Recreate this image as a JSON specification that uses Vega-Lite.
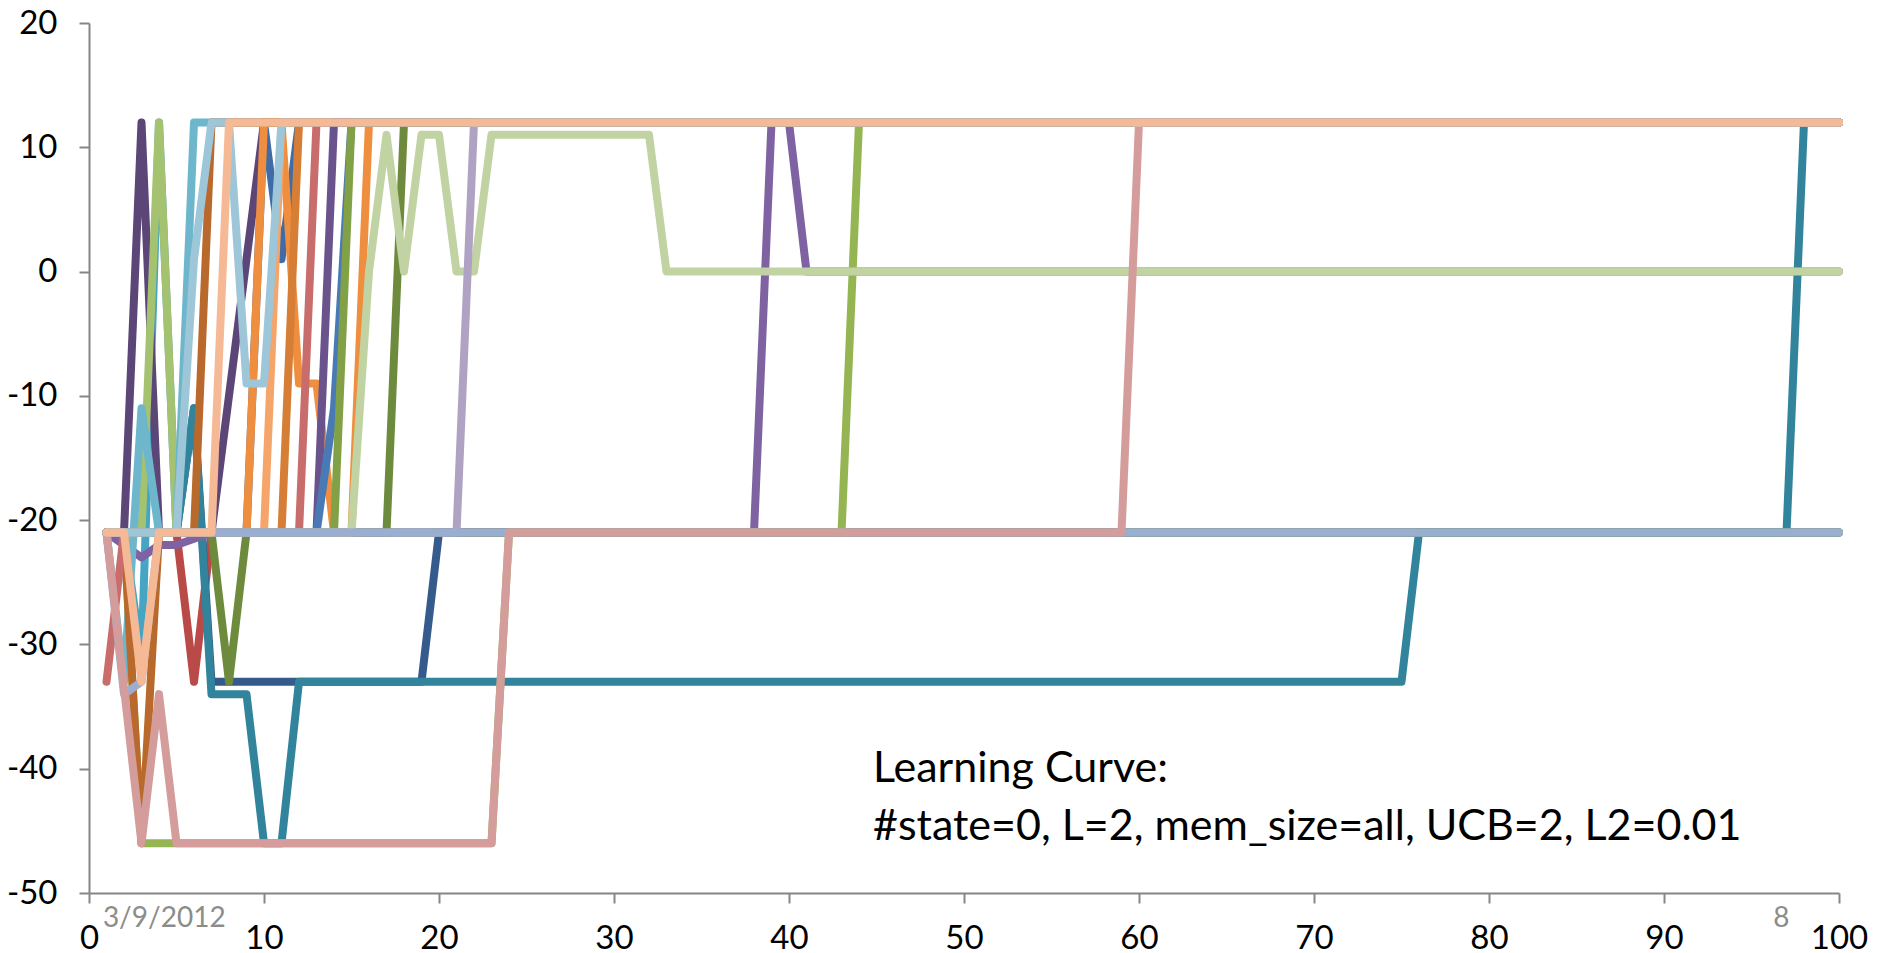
{
  "$schema": "https://vega.github.io/schema/vega-lite/v6.json",
  "width": 1750,
  "height": 870,
  "autosize": {"type": "none"},
  "padding": {"left": 89, "top": 23, "right": 42, "bottom": 60},
  "background": "white",
  "config": {
    "view": {"stroke": null},
    "font": "Lato"
  },
  "layer": [
    {
      "data": {"values": [
        {"s":"s01","x":1,"y":-21},{"s":"s01","x":9,"y":-21},{"s":"s01","x":10,"y":12},{"s":"s01","x":11,"y":1},{"s":"s01","x":12,"y":12},{"s":"s01","x":100,"y":12},
        {"s":"s02","x":1,"y":-21},{"s":"s02","x":5,"y":-21},{"s":"s02","x":6,"y":-33},{"s":"s02","x":7,"y":-21},{"s":"s02","x":100,"y":-21},
        {"s":"s03","x":1,"y":-21},{"s":"s03","x":2,"y":-21},{"s":"s03","x":3,"y":-31},{"s":"s03","x":4,"y":12},{"s":"s03","x":5,"y":-21},{"s":"s03","x":100,"y":-21},
        {"s":"s04","x":1,"y":-21},{"s":"s04","x":5,"y":-21},{"s":"s04","x":6,"y":-11},{"s":"s04","x":7,"y":-33},{"s":"s04","x":19,"y":-33},{"s":"s04","x":20,"y":-21},{"s":"s04","x":100,"y":-21},
        {"s":"s05","x":1,"y":-21},{"s":"s05","x":5,"y":-21},{"s":"s05","x":6,"y":-11},{"s":"s05","x":7,"y":-34},{"s":"s05","x":9,"y":-34},{"s":"s05","x":10,"y":-46},{"s":"s05","x":11,"y":-46},{"s":"s05","x":12,"y":-33},{"s":"s05","x":75,"y":-33},{"s":"s05","x":76,"y":-21},{"s":"s05","x":97,"y":-21},{"s":"s05","x":98,"y":12},{"s":"s05","x":100,"y":12},
        {"s":"s06","x":1,"y":-21},{"s":"s06","x":2,"y":-22},{"s":"s06","x":3,"y":-23},{"s":"s06","x":4,"y":-22},{"s":"s06","x":5,"y":-22},{"s":"s06","x":6,"y":-21.5},{"s":"s06","x":7,"y":-21},{"s":"s06","x":38,"y":-21},{"s":"s06","x":39,"y":12},{"s":"s06","x":40,"y":12},{"s":"s06","x":41,"y":0},{"s":"s06","x":100,"y":0},
        {"s":"s07","x":1,"y":-21},{"s":"s07","x":2,"y":-21},{"s":"s07","x":3,"y":-46},{"s":"s07","x":23,"y":-46},{"s":"s07","x":24,"y":-21},{"s":"s07","x":43,"y":-21},{"s":"s07","x":44,"y":12},{"s":"s07","x":100,"y":12},
        {"s":"s08","x":1,"y":-21},{"s":"s08","x":2,"y":-21},{"s":"s08","x":3,"y":12},{"s":"s08","x":4,"y":-21},{"s":"s08","x":7,"y":-21},{"s":"s08","x":8,"y":-10},{"s":"s08","x":9,"y":1},{"s":"s08","x":10,"y":12},{"s":"s08","x":100,"y":12},
        {"s":"s09","x":1,"y":-21},{"s":"s09","x":3,"y":-21},{"s":"s09","x":4,"y":12},{"s":"s09","x":5,"y":-21},{"s":"s09","x":100,"y":-21},
        {"s":"s10","x":1,"y":-21},{"s":"s10","x":2,"y":-33},{"s":"s10","x":3,"y":-11},{"s":"s10","x":4,"y":-21},{"s":"s10","x":5,"y":-21},{"s":"s10","x":6,"y":12},{"s":"s10","x":100,"y":12},
        {"s":"s11","x":1,"y":-21},{"s":"s11","x":2,"y":-21},{"s":"s11","x":3,"y":-46},{"s":"s11","x":4,"y":-21},{"s":"s11","x":6,"y":-21},{"s":"s11","x":7,"y":12},{"s":"s11","x":100,"y":12},
        {"s":"s12","x":1,"y":-21},{"s":"s12","x":7,"y":-21},{"s":"s12","x":8,"y":-33},{"s":"s12","x":9,"y":-21},{"s":"s12","x":17,"y":-21},{"s":"s12","x":18,"y":12},{"s":"s12","x":100,"y":12},
        {"s":"s13","x":1,"y":-21},{"s":"s13","x":9,"y":-21},{"s":"s13","x":10,"y":12},{"s":"s13","x":11,"y":12},{"s":"s13","x":12,"y":-9},{"s":"s13","x":13,"y":-9},{"s":"s13","x":14,"y":-21},{"s":"s13","x":15,"y":-21},{"s":"s13","x":16,"y":12},{"s":"s13","x":100,"y":12},
        {"s":"s14","x":1,"y":-21},{"s":"s14","x":10,"y":-21},{"s":"s14","x":11,"y":12},{"s":"s14","x":100,"y":12},
        {"s":"s15","x":1,"y":-21},{"s":"s15","x":11,"y":-21},{"s":"s15","x":12,"y":12},{"s":"s15","x":100,"y":12},
        {"s":"s16","x":1,"y":-33},{"s":"s16","x":2,"y":-21},{"s":"s16","x":12,"y":-21},{"s":"s16","x":13,"y":12},{"s":"s16","x":100,"y":12},
        {"s":"s17","x":1,"y":-21},{"s":"s17","x":13,"y":-21},{"s":"s17","x":14,"y":12},{"s":"s17","x":100,"y":12},
        {"s":"s18","x":1,"y":-21},{"s":"s18","x":13,"y":-21},{"s":"s18","x":14,"y":-11},{"s":"s18","x":15,"y":12},{"s":"s18","x":100,"y":12},
        {"s":"s19","x":1,"y":-21},{"s":"s19","x":14,"y":-21},{"s":"s19","x":15,"y":12},{"s":"s19","x":100,"y":12},
        {"s":"s20","x":1,"y":-21},{"s":"s20","x":15,"y":-21},{"s":"s20","x":16,"y":0},{"s":"s20","x":17,"y":11},{"s":"s20","x":18,"y":0},{"s":"s20","x":19,"y":11},{"s":"s20","x":20,"y":11},{"s":"s20","x":21,"y":0},{"s":"s20","x":22,"y":0},{"s":"s20","x":23,"y":11},{"s":"s20","x":32,"y":11},{"s":"s20","x":33,"y":0},{"s":"s20","x":100,"y":0},
        {"s":"s21","x":1,"y":-21},{"s":"s21","x":21,"y":-21},{"s":"s21","x":22,"y":12},{"s":"s21","x":100,"y":12},
        {"s":"s22","x":1,"y":-21},{"s":"s22","x":2,"y":-34},{"s":"s22","x":3,"y":-33},{"s":"s22","x":4,"y":-21},{"s":"s22","x":100,"y":-21},
        {"s":"s23","x":1,"y":-21},{"s":"s23","x":3,"y":-46},{"s":"s23","x":4,"y":-34},{"s":"s23","x":5,"y":-46},{"s":"s23","x":23,"y":-46},{"s":"s23","x":24,"y":-21},{"s":"s23","x":59,"y":-21},{"s":"s23","x":60,"y":12},{"s":"s23","x":100,"y":12},
        {"s":"s24","x":1,"y":-21},{"s":"s24","x":5,"y":-21},{"s":"s24","x":6,"y":1},{"s":"s24","x":7,"y":12},{"s":"s24","x":8,"y":12},{"s":"s24","x":9,"y":-9},{"s":"s24","x":10,"y":-9},{"s":"s24","x":11,"y":12},{"s":"s24","x":100,"y":12},
        {"s":"s25","x":1,"y":-21},{"s":"s25","x":2,"y":-21},{"s":"s25","x":3,"y":-33},{"s":"s25","x":4,"y":-21},{"s":"s25","x":7,"y":-21},{"s":"s25","x":8,"y":12},{"s":"s25","x":100,"y":12}
      ]},
      "mark": {"type": "line", "strokeWidth": 8, "strokeCap": "round", "strokeJoin": "round"},
      "encoding": {
        "x": {
          "field": "x", "type": "quantitative",
          "scale": {"domain": [0, 100], "nice": false, "zero": false},
          "axis": {
            "values": [0, 10, 20, 30, 40, 50, 60, 70, 80, 90, 100],
            "title": null, "grid": false,
            "domainColor": "#868686", "domainWidth": 2,
            "tickColor": "#868686", "tickWidth": 2, "tickSize": 10,
            "labelFontSize": 33, "labelColor": "#000000", "labelFont": "Lato",
            "labelPadding": 19, "labelFlush": false, "labelOverlap": false,
            "labelExpr": "'' + datum.value"
          }
        },
        "y": {
          "field": "y", "type": "quantitative",
          "scale": {"domain": [-50, 20], "nice": false, "zero": false},
          "axis": {
            "values": [-50, -40, -30, -20, -10, 0, 10, 20],
            "title": null, "grid": false,
            "domainColor": "#868686", "domainWidth": 2,
            "tickColor": "#868686", "tickWidth": 2, "tickSize": 10,
            "labelFontSize": 33, "labelColor": "#000000", "labelFont": "Lato",
            "labelPadding": 22, "labelFlush": false, "labelOverlap": false,
            "labelExpr": "'' + datum.value"
          }
        },
        "color": {
          "field": "s", "type": "nominal", "legend": null,
          "scale": {
            "domain": ["s01","s02","s03","s04","s05","s06","s07","s08","s09","s10","s11","s12","s13","s14","s15","s16","s17","s18","s19","s20","s21","s22","s23","s24","s25"],
            "range": ["#3F6CA6","#B94A47","#46A5C2","#345B8C","#31849B","#7E62A1","#94B552","#5B4677","#A5C271","#6DB6CB","#B8692B","#6E8B3D","#EE8E3E","#F5A46A","#D67E35","#C86D6B","#6A528D","#4A7AB5","#82A046","#C1D3A2","#B0A2C2","#9AAED2","#D49C9B","#9DC6D8","#F6B995"]
          }
        },
        "order": {"field": "x", "type": "quantitative"}
      }
    },
    {
      "data": {"values": [
        {"t": "3/9/2012", "x": 4.3, "y": -52.7},
        {"t": "8", "x": 96.7, "y": -52.7}
      ]},
      "mark": {"type": "text", "fontSize": 28, "font": "Lato", "color": "#8C8C8C", "align": "center", "baseline": "alphabetic"},
      "encoding": {
        "x": {"field": "x", "type": "quantitative"},
        "y": {"field": "y", "type": "quantitative"},
        "text": {"field": "t"}
      }
    },
    {
      "data": {"values": [
        {"t": "Learning Curve:", "x": 44.8, "y": -41.1},
        {"t": "#state=0, L=2, mem_size=all, UCB=2, L2=0.01", "x": 44.8, "y": -45.7}
      ]},
      "mark": {"type": "text", "fontSize": 43, "font": "Lato", "color": "#000000", "align": "left", "baseline": "alphabetic"},
      "encoding": {
        "x": {"field": "x", "type": "quantitative"},
        "y": {"field": "y", "type": "quantitative"},
        "text": {"field": "t"}
      }
    }
  ]
}
